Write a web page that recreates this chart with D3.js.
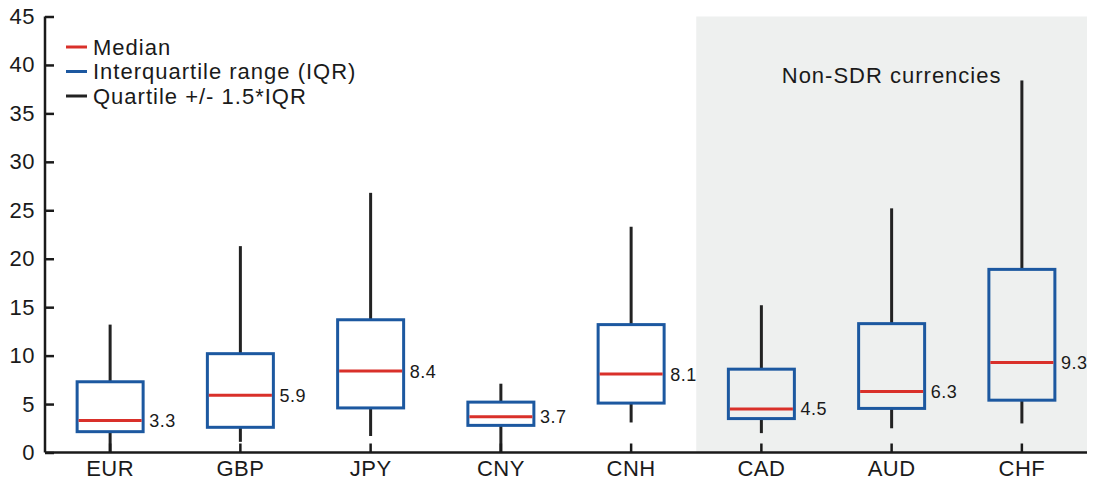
<!DOCTYPE html>
<html><head><meta charset="utf-8">
<script src="https://cdn.jsdelivr.net/npm/d3@7/dist/d3.min.js"></script>
<style>
html,body{margin:0;padding:0;background:#fff;}
text{font-family:"Liberation Sans",Arial,sans-serif;fill:#1a1a1a;}
</style></head>
<body>
<svg id="c" width="1093" height="483"></svg>
<script>
const categories = ["EUR","GBP","JPY","CNY","CNH","CAD","AUD","CHF"];
const whiskerLow  = [0.0, 1.1, 1.7, 0.0, 3.1, 2.0, 2.5, 3.0];
const q1          = [2.15, 2.6, 4.6, 2.8, 5.1, 3.5, 4.55, 5.4];
const median      = [3.3, 5.9, 8.4, 3.7, 8.1, 4.5, 6.3, 9.3];
const q3          = [7.3, 10.2, 13.7, 5.2, 13.2, 8.6, 13.3, 18.9];
const whiskerHigh = [13.2, 21.3, 26.8, 7.1, 23.3, 15.2, 25.2, 38.4];
const nonSDR = ["CAD","AUD","CHF"];
const yTicks = [0,5,10,15,20,25,30,35,40,45];
const legendItems = [
  {label:"Median", color:"#d9302a"},
  {label:"Interquartile range (IQR)", color:"#1c58a0"},
  {label:"Quartile +/- 1.5*IQR", color:"#222222"}
];

const svg = d3.select("#c");
const mLeft = 45, mRight = 1087, mTop = 16.5, mBottom = 452.5;
const x = d3.scaleBand().domain(categories).range([mLeft, mRight]).padding(0);
const y = d3.scaleLinear().domain([0,45]).range([mBottom, mTop]);
const boxW = 66;

// shaded non-SDR region
const sx0 = x(nonSDR[0]), sx1 = x(nonSDR[nonSDR.length-1]) + x.bandwidth();
svg.append("rect").attr("x", sx0).attr("y", y(45)).attr("width", sx1 - sx0)
  .attr("height", y(0) - y(45)).attr("fill", "#eef0ef");
svg.append("text").attr("x", x("AUD") + x.bandwidth()/2).attr("y", 83)
  .attr("text-anchor","middle").attr("font-size", 22).attr("letter-spacing","1px").text("Non-SDR currencies");

const data = categories.map((c,i)=>({c, lo:whiskerLow[i], q1:q1[i], med:median[i], q3:q3[i], hi:whiskerHigh[i]}));
const g = svg.append("g");
const cx = d => x(d.c) + x.bandwidth()/2;

// whiskers
g.selectAll(".wu").data(data).join("line")
  .attr("x1", cx).attr("x2", cx).attr("y1", d=>y(d.q3)).attr("y2", d=>y(d.hi))
  .attr("stroke","#222").attr("stroke-width",3);
g.selectAll(".wl").data(data).join("line")
  .attr("x1", cx).attr("x2", cx).attr("y1", d=>y(d.q1)).attr("y2", d=>y(d.lo))
  .attr("stroke","#222").attr("stroke-width",3);
// boxes
g.selectAll(".box").data(data).join("rect")
  .attr("x", d=>cx(d)-boxW/2).attr("width", boxW)
  .attr("y", d=>y(d.q3)).attr("height", d=>y(d.q1)-y(d.q3))
  .attr("fill","none").attr("stroke","#1c58a0").attr("stroke-width",3);
// medians
g.selectAll(".med").data(data).join("line")
  .attr("x1", d=>cx(d)-boxW/2+1.5).attr("x2", d=>cx(d)+boxW/2-1.5)
  .attr("y1", d=>y(d.med)).attr("y2", d=>y(d.med))
  .attr("stroke","#d9302a").attr("stroke-width",3);
// median labels
g.selectAll(".ml").data(data).join("text")
  .attr("x", d=>cx(d)+boxW/2+6).attr("y", d=>y(d.med)).attr("dy","0.36em")
  .attr("font-size",18).attr("letter-spacing","0.5px").text(d=>d3.format(".1f")(d.med));

// axes
const yAxis = d3.axisLeft(y).tickValues(yTicks).tickSize(-9).tickPadding(10);
const ya = svg.append("g").attr("transform",`translate(${mLeft},0)`).call(yAxis);
ya.select(".domain").attr("d", `M0,${mTop}V${mBottom}`).attr("stroke","#1a1a1a").attr("stroke-width",2.5);
ya.selectAll(".tick line").attr("stroke","#1a1a1a").attr("stroke-width",2.5);
ya.selectAll(".tick text").attr("font-size",22).attr("letter-spacing","0.5px").attr("font-family","Liberation Sans, Arial, sans-serif").attr("fill","#1a1a1a");

const xAxis = d3.axisBottom(x).tickSize(-9).tickPadding(8);
const xa = svg.append("g").attr("transform",`translate(0,${mBottom})`).call(xAxis);
xa.select(".domain").attr("d", `M${mLeft},0H${mRight}`).attr("stroke","#1a1a1a").attr("stroke-width",2.5);
xa.selectAll(".tick line").attr("stroke","#1a1a1a").attr("stroke-width",2.5);
xa.selectAll(".tick text").attr("font-size",22).attr("letter-spacing","0.5px").attr("font-family","Liberation Sans, Arial, sans-serif").attr("fill","#1a1a1a");

// legend
const lg = svg.append("g");
legendItems.forEach((it,i)=>{
  const yy = 47 + i*24.5;
  lg.append("line").attr("x1",66).attr("x2",87).attr("y1",yy).attr("y2",yy)
    .attr("stroke",it.color).attr("stroke-width",3);
  lg.append("text").attr("x",93).attr("y",yy).attr("dy","0.36em").attr("font-size",22).attr("letter-spacing","1px").text(it.label);
});
</script>
</body></html>
